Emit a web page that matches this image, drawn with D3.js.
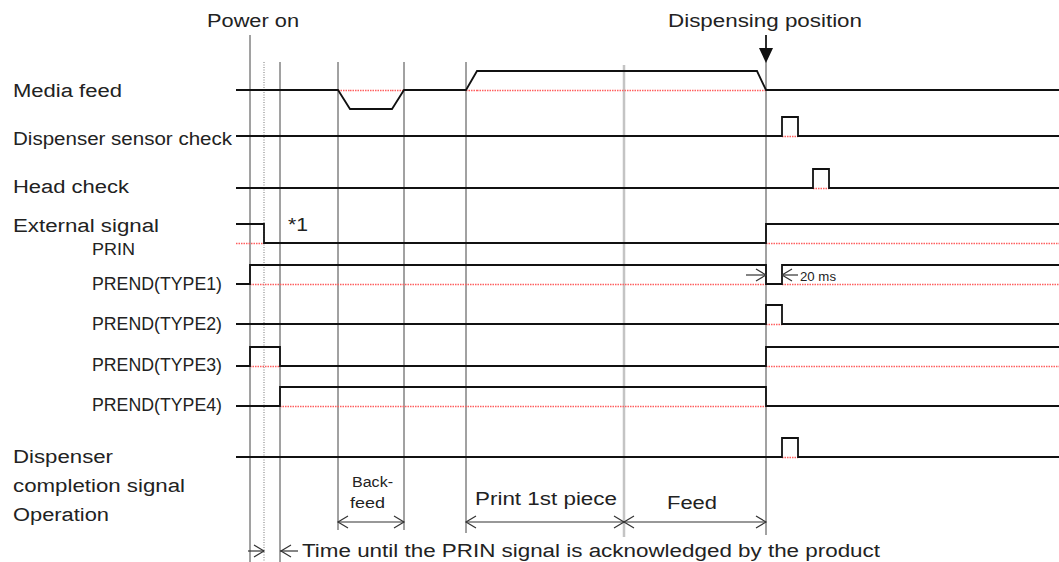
<!DOCTYPE html>
<head>
  <meta charset="utf-8">
  <title>Dispenser timing chart</title>
  <style>
    body { margin: 0; background: #fff; }
    text { font-family: "Liberation Sans", Arial, sans-serif; fill: #222; }
  </style>
</head>
<body>
<script src="https://cdn.jsdelivr.net/npm/d3@7"></script>
<script>

    // time marks (arbitrary time units from the left edge of the traces)
    var powerOn = 14, prinIn = 28, prinAck = 44,
        backStart = 102, backEnd = 168,
        printStart = 230, printEnd = 388, dispensePos = 530,
        endTime = 823;

    var markTimes = [powerOn, prinIn, prinAck, backStart, backEnd, printStart, printEnd, dispensePos];

    // signal levels: [time, level]  (0 = low, 1 = high, -1 = back feed)
    var mediaFeed    = [[0,0],[102,0],[114,-1],[156,-1],[168,0],[230,0],[241,1],[521,1],[530,0],[823,0]];
    var sensorCheck  = [[0,0],[546,0],[546,1],[562,1],[562,0],[823,0]];
    var headCheck    = [[0,0],[577,0],[577,1],[593,1],[593,0],[823,0]];
    var prin         = [[0,1],[28,1],[28,0],[530,0],[530,1],[823,1]];
    var prendType1   = [[0,0],[14,0],[14,1],[530,1],[530,0],[546,0],[546,1],[823,1]];
    var prendType2   = [[0,0],[530,0],[530,1],[546,1],[546,0],[823,0]];
    var prendType3   = [[0,0],[14,0],[14,1],[44,1],[44,0],[530,0],[530,1],[823,1]];
    var prendType4   = [[0,0],[44,0],[44,1],[530,1],[530,0],[823,0]];
    var dispComplete = [[0,0],[546,0],[546,1],[562,1],[562,0],[823,0]];

    var signals = [mediaFeed, sensorCheck, headCheck, prin, prendType1, prendType2, prendType3, prendType4, dispComplete];

    // operation spans
    var opNames = ["Back-feed", "Print 1st piece", "Feed"];
    var opFrom  = [backStart, printStart, printEnd];
    var opTo    = [backEnd, printEnd, dispensePos];

    // ---- layout ----
    var width = 1059, height = 562;
    var rowY = [90, 136, 188, 243, 284, 324, 366, 406, 457];
    var amp = 19;

    var x = d3.scaleLinear().domain([0, endTime]).range([236, 1059]);

    var svg = d3.select("body").append("svg")
        .attr("width", width)
        .attr("height", height);

    // vertical guides: top, bottom, style
    var markTop    = [35, 62, 62, 62, 62, 62, 65, 35];
    var markBottom = [562, 562, 562, 530, 530, 533, 537, 535];
    var markStyle  = ["solid", "dotted", "solid", "solid", "solid", "solid", "gray", "solid"];

    svg.selectAll("line.mark")
        .data(markTimes)
      .enter().append("line")
        .attr("class", "mark")
        .attr("x1", function(d) { return x(d); })
        .attr("x2", function(d) { return x(d); })
        .attr("y1", function(d, i) { return markTop[i]; })
        .attr("y2", function(d, i) { return markBottom[i]; })
        .attr("stroke", function(d, i) { return markStyle[i] == "gray" ? "#c4c4c4" : (markStyle[i] == "dotted" ? "#777" : "#444"); })
        .attr("stroke-width", function(d, i) { return markStyle[i] == "gray" ? 2.5 : 1; })
        .attr("stroke-dasharray", function(d, i) { return markStyle[i] == "dotted" ? "1,1.5" : null; });

    // dispensing position arrow
    var dx = x(dispensePos);
    svg.append("line")
        .attr("x1", dx).attr("x2", dx)
        .attr("y1", 35).attr("y2", 50)
        .attr("stroke", "#111")
        .attr("stroke-width", 1.6);
    svg.append("path")
        .attr("d", "M" + (dx - 7) + ",48L" + (dx + 7) + ",48L" + dx + ",63Z")
        .attr("fill", "#111");

    // signals
    signals.forEach(function(sig, r) {
      var y = d3.scaleLinear().domain([0, 1]).range([rowY[r], rowY[r] - amp]);

      // red reference (low level) under the non-low parts
      for (var i = 0; i < sig.length - 1; i++) {
        if (sig[i][1] != 0 || sig[i + 1][1] != 0) {
          svg.append("line")
              .attr("x1", x(sig[i][0]))
              .attr("x2", x(sig[i + 1][0]))
              .attr("y1", y(0) + 0.5)
              .attr("y2", y(0) + 0.5)
              .attr("stroke", "#ff5f5f")
              .attr("stroke-width", 1.3)
              .attr("stroke-dasharray", "1.5,1");
        }
      }

      var line = d3.line()
          .x(function(d) { return x(d[0]); })
          .y(function(d) { return y(d[1]); });

      svg.append("path")
          .datum(sig)
          .attr("d", line)
          .attr("fill", "none")
          .attr("stroke", "#111")
          .attr("stroke-width", 1.8);
    });

    // open arrow helper
    function arrowHead(tipX, y, dir) {
      svg.append("path")
          .attr("d", "M" + (tipX - dir * 10) + "," + (y - 6) + "L" + tipX + "," + y + "L" + (tipX - dir * 10) + "," + (y + 6))
          .attr("fill", "none")
          .attr("stroke", "#333")
          .attr("stroke-width", 1.2);
    }
    function hline(x1, x2, y) {
      svg.append("line")
          .attr("x1", x1).attr("x2", x2)
          .attr("y1", y).attr("y2", y)
          .attr("stroke", "#333")
          .attr("stroke-width", 1.2);
    }

    // operation arrows
    var opY = 522;
    opNames.forEach(function(name, i) {
      hline(x(opFrom[i]), x(opTo[i]), opY);
      arrowHead(x(opFrom[i]), opY, -1);
      arrowHead(x(opTo[i]), opY, 1);
    });

    // 20 ms marker
    hline(x(dispensePos) - 20, x(dispensePos), 275);
    arrowHead(x(dispensePos), 275, 1);
    hline(x(dispensePos + 16), x(dispensePos + 16) + 16, 275);
    arrowHead(x(dispensePos + 16), 275, -1);

    // PRIN acknowledge marker
    hline(x(prinIn) - 16, x(prinIn), 551);
    arrowHead(x(prinIn), 551, 1);
    hline(x(prinAck), x(prinAck) + 18, 551);
    arrowHead(x(prinAck) + 1, 551, -1);

    // texts
    function label(t, lx, ly, size, len) {
      svg.append("text")
          .attr("x", lx)
          .attr("y", ly)
          .style("font-size", size + "px")
          .attr("textLength", len)
          .attr("lengthAdjust", "spacingAndGlyphs")
          .text(t);
    }

    label("Power on", 207, 27, 18, 92);
    label("Dispensing position", 668, 27, 18, 194);
    label("Media feed", 13, 97, 18, 109);
    label("Dispenser sensor check", 13, 145, 18, 219);
    label("Head check", 13, 193, 18, 116);
    label("External signal", 13, 232, 18, 146);
    label("*1", 288, 231, 18, 20);
    label("PRIN", 92, 255, 16, 43);
    label("PREND(TYPE1)", 92, 290, 18, 130);
    label("PREND(TYPE2)", 92, 330, 18, 130);
    label("PREND(TYPE3)", 92, 371, 18, 130);
    label("PREND(TYPE4)", 92, 411, 18, 130);
    label("Dispenser", 13, 463, 18, 100);
    label("completion signal", 13, 492, 18, 172);
    label("Operation", 13, 521, 18, 96);
    label("Back-", 352, 487, 14, 41);
    label("feed", 350, 508, 14, 35);
    label("Print 1st piece", 475, 505, 18, 142);
    label("Feed", 667, 509, 18, 50);
    label("20 ms", 800, 281, 13, 36);
    label("Time until the PRIN signal is acknowledged by the product", 302, 557, 18, 578);

</script>
</body>
